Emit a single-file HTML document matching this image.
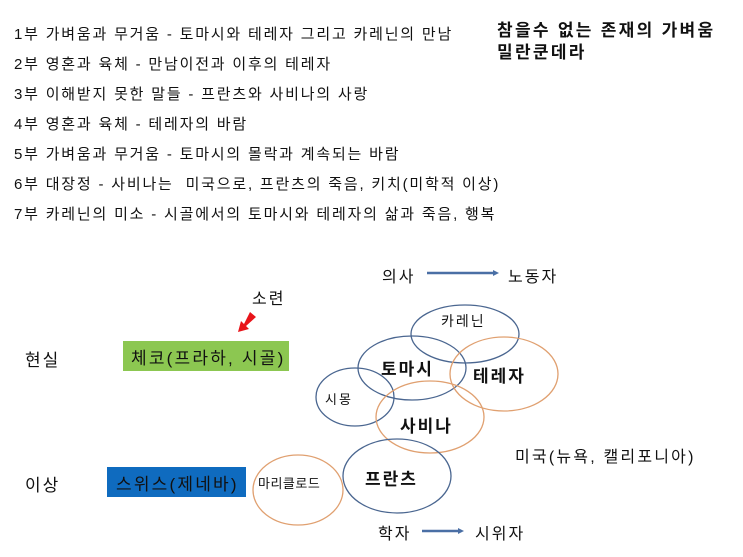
<!DOCTYPE html>
<html><head><meta charset="utf-8"><style>
body{margin:0;width:743px;height:557px;background:#fff;overflow:hidden;position:relative;font-family:"Liberation Sans","Noto Sans CJK KR",sans-serif;color:#111}
.t{position:absolute;white-space:nowrap;letter-spacing:2px}
.l{font-size:15px;left:14px;letter-spacing:1.8px}
</style></head><body>
<div class="t l" style="top:23px">1부 가벼움과 무거움 - 토마시와 테레자 그리고 카레닌의 만남</div>
<div class="t l" style="top:53px">2부 영혼과 육체 - 만남이전과 이후의 테레자</div>
<div class="t l" style="top:83px">3부 이해받지 못한 말들 - 프란츠와 사비나의 사랑</div>
<div class="t l" style="top:113px">4부 영혼과 육체 - 테레자의 바람</div>
<div class="t l" style="top:143px">5부 가벼움과 무거움 - 토마시의 몰락과 계속되는 바람</div>
<div class="t l" style="top:173px">6부 대장정 - 사비나는&nbsp; 미국으로, 프란츠의 죽음, 키치(미학적 이상)</div>
<div class="t l" style="top:203px">7부 카레닌의 미소 - 시골에서의 토마시와 테레자의 삶과 죽음, 행복</div>
<div class="t" style="left:497px;top:16px;font-size:17px;font-weight:bold;letter-spacing:2.3px">참을수 없는 존재의 가벼움</div>
<div class="t" style="left:497px;top:38px;font-size:17px;font-weight:bold;letter-spacing:2.3px">밀란쿤데라</div>

<svg width="743" height="557" style="position:absolute;left:0;top:0">
<g fill="none" stroke-width="1.3">
<ellipse cx="465" cy="334" rx="54" ry="29" stroke="#4a6690"/>
<ellipse cx="412" cy="368" rx="54" ry="32" stroke="#4a6690"/>
<ellipse cx="504" cy="374" rx="54" ry="37" stroke="#e0a070"/>
<ellipse cx="355" cy="397" rx="39" ry="29" stroke="#4a6690"/>
<ellipse cx="430" cy="417" rx="54" ry="36" stroke="#e0a070"/>
<ellipse cx="397" cy="476" rx="54" ry="37" stroke="#4a6690"/>
<ellipse cx="298" cy="490" rx="45" ry="35" stroke="#e0a070"/>
</g>
<line x1="427" y1="273" x2="493" y2="273" stroke="#4a6fa5" stroke-width="2.5"/>
<polygon points="493,270 499,273 493,276" fill="#4a6fa5"/>
<line x1="422" y1="531" x2="458" y2="531" stroke="#4a6fa5" stroke-width="2.5"/>
<polygon points="458,528 464,531 458,534" fill="#4a6fa5"/>
<polygon points="250,312 256,317 246,326 249,329 238,332 241,321 244,324" fill="#e8141a"/>
</svg>

<div class="t" style="left:123px;top:341px;width:166px;height:30px;background:#8cc751"></div>
<div class="t" style="left:131px;top:344px;font-size:17px;letter-spacing:2.2px">체코(프라하, 시골)</div>
<div class="t" style="left:107px;top:467px;width:139px;height:30px;background:#0f6bbf"></div>
<div class="t" style="left:116px;top:470px;font-size:17px;letter-spacing:2.2px">스위스(제네바)</div>
<div class="t" style="left:25px;top:346px;font-size:17px">현실</div>
<div class="t" style="left:25px;top:471px;font-size:17px">이상</div>
<div class="t" style="left:252px;top:285px;font-size:16px">소련</div>
<div class="t" style="left:382px;top:263px;font-size:16px">의사</div>
<div class="t" style="left:508px;top:263px;font-size:16px">노동자</div>
<div class="t" style="left:378px;top:520px;font-size:16px">학자</div>
<div class="t" style="left:475px;top:520px;font-size:16px">시위자</div>
<div class="t" style="left:441px;top:311px;font-size:14px">카레닌</div>
<div class="t" style="left:381px;top:355px;font-size:17px;font-weight:bold">토마시</div>
<div class="t" style="left:473px;top:362px;font-size:17px;font-weight:bold">테레자</div>
<div class="t" style="left:325px;top:389px;font-size:13px">시몽</div>
<div class="t" style="left:400px;top:412px;font-size:17px;font-weight:bold">사비나</div>
<div class="t" style="left:365px;top:465px;font-size:17px;font-weight:bold">프란츠</div>
<div class="t" style="left:258px;top:473px;font-size:13px;letter-spacing:0.5px">마리클로드</div>
<div class="t" style="left:515px;top:443px;font-size:16px;letter-spacing:2.2px">미국(뉴욕, 캘리포니아)</div>
</body></html>
